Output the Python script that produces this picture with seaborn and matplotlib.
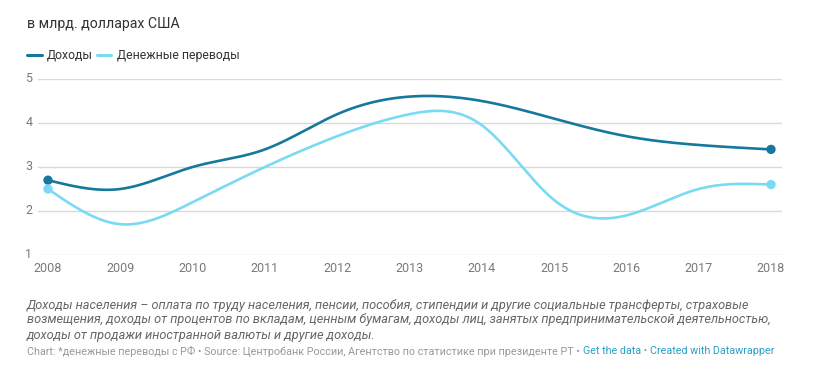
import numpy as np
import pandas as pd
import matplotlib
matplotlib.use("Agg")
import matplotlib.pyplot as plt
import seaborn as sns

# ---- data ----
years = [2008, 2009, 2010, 2011, 2012, 2013, 2014, 2015, 2016, 2017, 2018]
income = [2.7, 2.5, 3.0, 3.4, 4.2, 4.6, 4.5, 4.1, 3.7, 3.5, 3.4]
remittances = [2.5, 1.7, 2.2, 3.0, 3.7, 4.2, 3.95, 2.25, 1.9, 2.5, 2.6]
series_names = ["Доходы", "Денежные переводы"]
y_ticks = [1, 2, 3, 4, 5]

title = "в млрд. долларах США"
note_lines = [
    "Доходы населения – оплата по труду населения, пенсии, пособия, стипендии и другие социальные трансферты, страховые",
    "возмещения, доходы от процентов по вкладам, ценным бумагам, доходы лиц, занятых предпринимательской деятельностью,",
    "доходы от продажи иностранной валюты и другие доходы.",
]
source_parts = ["Chart: *денежные переводы с РФ • Source: Центробанк России, Агентство по статистике при президенте РТ • ",
                "Get the data", " • ", "Created with Datawrapper"]

colors = ["#15789c", "#7bdaf3"]


def natural_spline(x, y, n=400):
    x = np.asarray(x, float)
    y = np.asarray(y, float)
    k = len(x)
    h = np.diff(x)
    A = np.zeros((k, k))
    b = np.zeros(k)
    A[0, 0] = A[-1, -1] = 1
    for i in range(1, k - 1):
        A[i, i - 1] = h[i - 1]
        A[i, i] = 2 * (h[i - 1] + h[i])
        A[i, i + 1] = h[i]
        b[i] = 3 * ((y[i + 1] - y[i]) / h[i] - (y[i] - y[i - 1]) / h[i - 1])
    c = np.linalg.solve(A, b)
    xs = np.linspace(x[0], x[-1], n)
    ys = np.empty_like(xs)
    for j, xv in enumerate(xs):
        i = min(np.searchsorted(x, xv, side="right") - 1, k - 2)
        dx = xv - x[i]
        bb = (y[i + 1] - y[i]) / h[i] - h[i] * (2 * c[i] + c[i + 1]) / 3
        dd = (c[i + 1] - c[i]) / (3 * h[i])
        ys[j] = y[i] + bb * dx + c[i] * dx ** 2 + dd * dx ** 3
    return xs, ys


sns.set_theme(style="white")
plt.rcParams["font.family"] = ["Roboto", "DejaVu Sans"]

W, H = 822, 384
fig = plt.figure(figsize=(W / 100, H / 100), dpi=100)
ax = fig.add_axes([38 / W, 1 - 255 / H, (782 - 38) / W, (255 - 79) / H])

frames = []
for name, vals in zip(series_names, [income, remittances]):
    xs, ys = natural_spline(years, vals)
    frames.append(pd.DataFrame({"year": xs, "value": ys, "series": name}))
smooth = pd.concat(frames, ignore_index=True)
pts = pd.DataFrame({
    "year": years * 2,
    "value": income + remittances,
    "series": [series_names[0]] * len(years) + [series_names[1]] * len(years),
})
ends = pts[pts["year"].isin([years[0], years[-1]])]

palette = dict(zip(series_names, colors))
sns.lineplot(data=smooth, x="year", y="value", hue="series", hue_order=series_names[::-1],
             palette=palette, linewidth=1.9, ax=ax, legend=False, sort=False,
             estimator=None, zorder=3)
sns.scatterplot(data=ends, x="year", y="value", hue="series", palette=palette,
                s=45, edgecolor="none", ax=ax, legend=False, zorder=4, clip_on=False)

ax.set_xlim(2008 - 10 / 72.3, 2018 + 11 / 72.3)
ax.set_ylim(1, 5)
ax.set_yticks(y_ticks)
ax.set_xticks(years)
ax.set_xticklabels([str(y) for y in years])
ax.set_xlabel("")
ax.set_ylabel("")
for s in ax.spines.values():
    s.set_visible(False)
ax.grid(axis="y", color="#d9d9d9", linewidth=1)
ax.grid(axis="x", visible=False)
ax.tick_params(axis="y", length=0, pad=4, labelsize=9, labelcolor="#7a7a7a")
ax.tick_params(axis="x", length=0, pad=5, labelsize=9, labelcolor="#7a7a7a")
for lab in ax.get_yticklabels():
    lab.set_verticalalignment("center")

# title
fig.text(27 / W, 1 - 24 / H, title, fontsize=10.2, color="#333333", va="center", ha="left")

# legend
ly = 1 - 55 / H
fig.add_artist(plt.Line2D([27 / W, 42 / W], [ly, ly], color=colors[0], linewidth=2.2))
fig.text(47 / W, ly, series_names[0], fontsize=8.8, color="#333333", va="center", ha="left")
fig.add_artist(plt.Line2D([97 / W, 111 / W], [ly, ly], color=colors[1], linewidth=2.2))
fig.text(117 / W, ly, series_names[1], fontsize=8.8, color="#333333", va="center", ha="left")

# notes
for i, line in enumerate(note_lines):
    fig.text(27 / W, 1 - (305 + 15 * i) / H, line, fontsize=9.2, color="#666666",
             style="italic", va="center", ha="left")

# source line
sx = 27 / W
sy = 1 - 351 / H
renderer = fig.canvas.get_renderer()
src_colors = ["#999999", "#2a9fc6", "#999999", "#2a9fc6"]
for part, col in zip(source_parts, src_colors):
    t = fig.text(sx, sy, part, fontsize=7.75, color=col, va="center", ha="left")
    bb = t.get_window_extent(renderer=renderer)
    sx += bb.width / W

fig.savefig("out.png", dpi=100)
